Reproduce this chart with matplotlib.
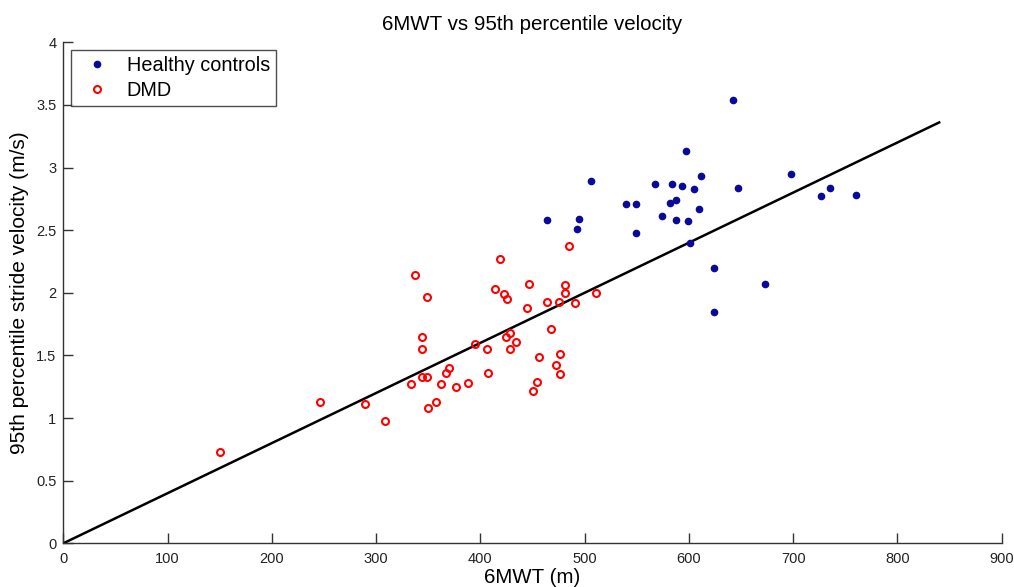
import matplotlib
matplotlib.use("Agg")
import matplotlib.pyplot as plt
import numpy as np

plt.rcParams['font.family'] = ['Liberation Sans', 'DejaVu Sans']

# Healthy controls: 6MWT (m), 95th percentile stride velocity (m/s)
healthy_6mwt = [642, 597, 506, 567, 584, 593, 612, 605, 647, 698, 735, 727, 760,
                540, 549, 582, 588, 574, 588, 599, 610, 464, 495, 493, 549, 601,
                624, 673, 624]
healthy_vel = [3.54, 3.13, 2.89, 2.87, 2.87, 2.85, 2.93, 2.83, 2.84, 2.95, 2.84, 2.77, 2.78,
               2.71, 2.71, 2.72, 2.74, 2.61, 2.58, 2.57, 2.67, 2.58, 2.59, 2.51, 2.48, 2.40,
               2.20, 2.07, 1.85]

# DMD patients
dmd_6mwt = [485, 419, 337, 349, 414, 423, 426, 447, 481, 481, 511, 464, 475, 491, 445,
            468, 344, 344, 395, 406, 428, 425, 434, 428, 456, 476, 473, 476, 454, 450,
            407, 388, 377, 370, 367, 362, 344, 349, 333, 357, 350, 246, 289, 309, 150]
dmd_vel = [2.37, 2.27, 2.14, 1.97, 2.03, 1.99, 1.95, 2.07, 2.06, 2.00, 2.00, 1.93, 1.93, 1.92, 1.88,
           1.71, 1.65, 1.55, 1.59, 1.55, 1.68, 1.65, 1.61, 1.55, 1.49, 1.51, 1.42, 1.35, 1.29, 1.22,
           1.36, 1.28, 1.25, 1.40, 1.36, 1.27, 1.33, 1.33, 1.27, 1.13, 1.08, 1.13, 1.11, 0.98, 0.73]

# Regression line through origin
line_x = [0, 840]
line_slope = 0.004

xticks = [0, 100, 200, 300, 400, 500, 600, 700, 800, 900]
yticks = [0, 0.5, 1, 1.5, 2, 2.5, 3, 3.5, 4]
ytick_labels = ['0', '0.5', '1', '1.5', '2', '2.5', '3', '3.5', '4']

fig = plt.figure(figsize=(10.14, 5.87), dpi=100)
ax = fig.add_axes([0.0624, 0.0744, 0.9255, 0.8536])

ax.plot(healthy_6mwt, healthy_vel, linestyle='none', marker='o', markersize=4.5,
        color='#0a0a9a', markeredgecolor='#0a0a9a', label='Healthy controls', zorder=3)
ax.plot(dmd_6mwt, dmd_vel, linestyle='none', marker='o', markersize=5.0,
        markerfacecolor='none', markeredgecolor='#ff0000', markeredgewidth=1.5,
        label='DMD', zorder=3)
lx = np.array(line_x, dtype=float)
ax.plot(lx, line_slope * lx, color='black', linewidth=1.8, zorder=2)

ax.set_xlim(0, 900)
ax.set_ylim(0, 4)
ax.set_xticks(xticks)
ax.set_yticks(yticks)
ax.set_yticklabels(ytick_labels)
ax.spines['top'].set_visible(False)
ax.spines['right'].set_visible(False)
for s in ('left', 'bottom'):
    ax.spines[s].set_color('#333333')
    ax.spines[s].set_linewidth(1.0)
ax.tick_params(direction='in', length=7.2, width=1.0, color='#333333',
               labelsize=10.5, labelcolor='#222222')
ax.tick_params(axis='x', pad=6)
ax.tick_params(axis='y', pad=5)

ax.set_title('6MWT vs 95th percentile velocity', fontsize=14.8, pad=9)
ax.set_xlabel('6MWT (m)', fontsize=14.8, labelpad=2)
ax.set_ylabel('95th percentile stride velocity (m/s)', fontsize=15, labelpad=5)

leg = ax.legend(loc='upper left', bbox_to_anchor=(0.0085, 0.984), fontsize=14.3,
                frameon=True, fancybox=False, edgecolor='#222222',
                borderpad=0.3, handletextpad=0.5, labelspacing=0.28, handlelength=2.0,
                borderaxespad=0)
leg.get_frame().set_linewidth(1.0)

fig.savefig('out.png', dpi=100)
